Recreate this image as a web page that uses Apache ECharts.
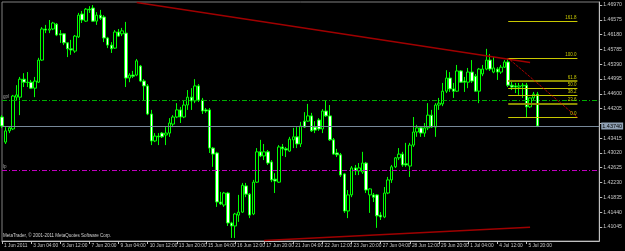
<!DOCTYPE html>
<html><head><meta charset="utf-8">
<script src="https://cdn.jsdelivr.net/npm/echarts@6/dist/echarts.min.js"></script>
<style>html,body{margin:0;padding:0;background:#000}#c{width:625px;height:251px}</style>
</head><body><div id="c"></div>
<script>
// ---- data ----
const tickLabels = ['1 Jun 2011','3 Jun 04:00','6 Jun 12:00','7 Jun 20:00','9 Jun 04:00','10 Jun 12:00','13 Jun 20:00','15 Jun 04:00','16 Jun 12:00','17 Jun 20:00','21 Jun 04:00','22 Jun 12:00','23 Jun 20:00','27 Jun 04:00','28 Jun 12:00','29 Jun 20:00','1 Jul 04:00','4 Jul 12:00','5 Jul 20:00'];
const opens = [1.4398,1.4331,1.4361,1.4366,1.4451,1.4451,1.4499,1.4491,1.4491,1.4475,1.4491,1.4550,1.4633,1.4630,1.4633,1.4646,1.4620,1.4620,1.4596,1.4580,1.4574,1.4612,1.4673,1.4654,1.4686,1.4689,1.4654,1.4670,1.4665,1.4609,1.4590,1.4582,1.4625,1.4620,1.4622,1.4502,1.4510,1.4510,1.4534,1.4494,1.4481,1.4406,1.4334,1.4347,1.4355,1.4350,1.4355,1.4379,1.4398,1.4417,1.4398,1.4430,1.4451,1.4441,1.4481,1.4443,1.4417,1.4417,1.4315,1.4302,1.4171,1.4163,1.4195,1.4115,1.4107,1.4136,1.4144,1.4214,1.4192,1.4139,1.4224,1.4305,1.4294,1.4305,1.4278,1.4232,1.4224,1.4318,1.4313,1.4307,1.4337,1.4345,1.4326,1.4387,1.4387,1.4401,1.4371,1.4390,1.4366,1.4414,1.4401,1.4337,1.4302,1.4297,1.4246,1.4147,1.4190,1.4262,1.4254,1.4251,1.4275,1.4190,1.4190,1.4190,1.4136,1.4131,1.4195,1.4230,1.4265,1.4289,1.4299,1.4273,1.4267,1.4323,1.4358,1.4369,1.4355,1.4369,1.4403,1.4371,1.4430,1.4433,1.4467,1.4502,1.4473,1.4467,1.4521,1.4494,1.4491,1.4518,1.4507,1.4467,1.4513,1.4526,1.4550,1.4518,1.4526,1.4518,1.4531,1.4545,1.4483,1.4481,1.4478,1.4481,1.4483,1.4425,1.4449,1.4459];
const closes = [1.4374,1.4361,1.4369,1.4454,1.4457,1.4499,1.4491,1.4490,1.4475,1.4494,1.4550,1.4633,1.4630,1.4633,1.4649,1.4617,1.4617,1.4596,1.4580,1.4577,1.4614,1.4670,1.4657,1.4686,1.4684,1.4654,1.4670,1.4662,1.4609,1.4590,1.4580,1.4625,1.4614,1.4628,1.4502,1.4510,1.4507,1.4548,1.4494,1.4481,1.4406,1.4334,1.4347,1.4345,1.4345,1.4355,1.4382,1.4398,1.4417,1.4398,1.4430,1.4451,1.4441,1.4481,1.4443,1.4414,1.4414,1.4315,1.4299,1.4171,1.4166,1.4195,1.4115,1.4107,1.4139,1.4144,1.4216,1.4192,1.4136,1.4224,1.4305,1.4294,1.4305,1.4275,1.4230,1.4227,1.4318,1.4313,1.4310,1.4339,1.4345,1.4326,1.4374,1.4371,1.4401,1.4361,1.4363,1.4366,1.4414,1.4401,1.4337,1.4299,1.4297,1.4243,1.4147,1.4190,1.4262,1.4254,1.4262,1.4275,1.4203,1.4206,1.4184,1.4134,1.4131,1.4195,1.4230,1.4265,1.4289,1.4299,1.4270,1.4270,1.4323,1.4358,1.4369,1.4355,1.4369,1.4403,1.4371,1.4430,1.4435,1.4467,1.4502,1.4473,1.4467,1.4521,1.4491,1.4491,1.4518,1.4494,1.4467,1.4526,1.4526,1.4550,1.4526,1.4529,1.4518,1.4531,1.4545,1.4483,1.4478,1.4478,1.4481,1.4483,1.4425,1.4449,1.4459,1.4374];
const lows = [1.4369,1.4326,1.4355,1.4363,1.4443,1.4403,1.4478,1.4478,1.4473,1.4451,1.4489,1.4548,1.4622,1.4622,1.4630,1.4614,1.4596,1.4590,1.4558,1.4564,1.4569,1.4609,1.4649,1.4652,1.4676,1.4652,1.4644,1.4657,1.4598,1.4582,1.4569,1.4580,1.4612,1.4614,1.4478,1.4491,1.4502,1.4507,1.4491,1.4443,1.4403,1.4323,1.4331,1.4323,1.4342,1.4323,1.4345,1.4371,1.4395,1.4382,1.4395,1.4417,1.4417,1.4435,1.4438,1.4406,1.4409,1.4302,1.4265,1.4158,1.4163,1.4158,1.4107,1.4075,1.4075,1.4118,1.4142,1.4184,1.4128,1.4136,1.4222,1.4291,1.4283,1.4270,1.4224,1.4195,1.4222,1.4294,1.4291,1.4305,1.4315,1.4315,1.4318,1.4369,1.4385,1.4358,1.4355,1.4361,1.4355,1.4398,1.4334,1.4297,1.4291,1.4238,1.4142,1.4128,1.4184,1.4243,1.4243,1.4246,1.4195,1.4142,1.4171,1.4102,1.4123,1.4128,1.4192,1.4222,1.4262,1.4283,1.4265,1.4265,1.4238,1.4318,1.4345,1.4345,1.4345,1.4363,1.4369,1.4345,1.4417,1.4427,1.4462,1.4465,1.4449,1.4465,1.4489,1.4465,1.4475,1.4489,1.4465,1.4435,1.4507,1.4523,1.4521,1.4515,1.4497,1.4513,1.4529,1.4478,1.4470,1.4462,1.4457,1.4449,1.4397,1.4422,1.4443,1.4371];
const highs = [1.4403,1.4371,1.4371,1.4457,1.4483,1.4505,1.4515,1.4518,1.4497,1.4505,1.4556,1.4638,1.4644,1.4657,1.4652,1.4649,1.4630,1.4622,1.4598,1.4604,1.4617,1.4676,1.4681,1.4689,1.4694,1.4697,1.4678,1.4684,1.4670,1.4612,1.4598,1.4630,1.4633,1.4636,1.4652,1.4515,1.4521,1.4553,1.4537,1.4499,1.4486,1.4417,1.4355,1.4355,1.4358,1.4371,1.4395,1.4403,1.4435,1.4425,1.4443,1.4470,1.4475,1.4499,1.4486,1.4449,1.4422,1.4422,1.4318,1.4305,1.4198,1.4198,1.4198,1.4118,1.4142,1.4190,1.4222,1.4222,1.4195,1.4230,1.4315,1.4337,1.4326,1.4310,1.4283,1.4248,1.4323,1.4326,1.4318,1.4345,1.4369,1.4371,1.4385,1.4411,1.4433,1.4409,1.4387,1.4395,1.4419,1.4443,1.4430,1.4342,1.4313,1.4302,1.4248,1.4203,1.4267,1.4270,1.4275,1.4305,1.4278,1.4208,1.4195,1.4192,1.4144,1.4211,1.4238,1.4270,1.4291,1.4315,1.4305,1.4329,1.4329,1.4398,1.4377,1.4371,1.4382,1.4435,1.4417,1.4435,1.4449,1.4489,1.4523,1.4518,1.4489,1.4537,1.4523,1.4505,1.4529,1.4550,1.4513,1.4529,1.4537,1.4580,1.4566,1.4558,1.4531,1.4537,1.4550,1.4555,1.4497,1.4489,1.4489,1.4489,1.4489,1.4451,1.4465,1.4465];
const priceTicks = [1.46970,1.46575,1.46180,1.45785,1.45390,1.44995,1.44600,1.44205,1.43810,1.43415,1.43020,1.42625,1.42230,1.41835,1.41440,1.41045];
const priceTickLabels = [1.46970,1.46575,1.46180,1.45785,1.45390,1.44995,1.44600,1.44205,1.43415,1.43020,1.42625,1.42230,1.41835,1.41440,1.41045];
const bidPrice = 1.43740;
const greenLevel = 1.4442;
const magentaLevel = 1.4257;
const upperTrend = [[37, 1.47035], [145, 1.45438]];
const lowerTrend = [[72, 1.40683], [145, 1.41035]];
const fibStart = 139, fibEnd = 158;
const fibHigh = 1.4555, fibLow = 1.4397;
const fibRatios = [0, 0.236, 0.382, 0.5, 0.618, 1, 1.618];
const fibLabels = ['0.0', '23.6', '38.2', '50.0', '61.8', '100.0', '161.8'];
const slotCount = 165;
const axisMin = 1.40669, axisMax = 1.47051;

// ---- build ----
const FONT = 'Liberation Sans';
const cats = Array.from({length: slotCount}, (_, i) => 'b' + i);
const candles = opens.map((o, i) => [o, closes[i], lows[i], highs[i]]);
const tickShown = i => i % 8 === 0 && (i / 8) < tickLabels.length;

const markData = [];
markData.push({yAxis: bidPrice, lineStyle: {color: '#778899', type: 'solid', width: 1},
  label: {show: true, position: 'end', formatter: bidPrice.toFixed(5), backgroundColor: '#8fa0b4', color: '#000', fontSize: 5.5, fontFamily: FONT, padding: [1, 1, 0, 1], distance: 2}});
markData.push({yAxis: greenLevel, lineStyle: {color: '#00b000', type: [5, 2, 1, 2], width: 1},
  label: {show: true, position: 'insideStartTop', formatter: 'gpl', color: '#a0a0a0', fontSize: 4.5, fontFamily: FONT, distance: 1}});
markData.push({yAxis: magentaLevel, lineStyle: {color: '#c000c0', type: [5, 2, 1, 2], width: 1},
  label: {show: true, position: 'insideStartTop', formatter: 'lp', color: '#a0a0a0', fontSize: 4.5, fontFamily: FONT, distance: 1}});
[upperTrend, lowerTrend].forEach(t => {
  markData.push([{coord: t[0], lineStyle: {color: '#a00000', width: 1.5, type: 'solid'}, label: {show: false}}, {coord: t[1]}]);
});
fibRatios.forEach((r, k) => {
  const p = fibLow + r * (fibHigh - fibLow);
  const thick = (r === 0.236 || r === 0.618);
  markData.push([{coord: [fibStart, p], lineStyle: {color: thick ? '#8c8c00' : '#c8c800', width: thick ? 2 : 1, type: 'solid'},
    label: {show: true, position: 'insideEndTop', formatter: fibLabels[k], color: '#c8c800', fontSize: 4.5, fontFamily: FONT, distance: 1}}, {coord: [fibEnd, p]}]);
});
markData.push([{coord: [fibStart, fibHigh], lineStyle: {color: '#ff0000', width: 1, type: [1, 1]}, label: {show: false}}, {coord: [fibEnd, fibLow]}]);

const chart = echarts.init(document.getElementById('c'), null, {renderer: 'canvas'});
chart.setOption({
  animation: false,
  backgroundColor: '#000000',
  grid: {left: 2, right: 24, top: 2, bottom: 10, show: true, borderColor: '#808080', borderWidth: 1, backgroundColor: 'transparent'},
  xAxis: {
    type: 'category', data: cats, boundaryGap: false,
    axisLine: {show: true, lineStyle: {color: '#c0c0c0', width: 1}},
    axisTick: {show: true, interval: (i) => tickShown(i), length: 3, lineStyle: {color: '#c0c0c0'}},
    axisLabel: {show: true, interval: (i) => tickShown(i), formatter: (v, i) => tickShown(i) ? tickLabels[i / 8] : '',
      align: 'left', padding: [0, 0, 0, 2], margin: 2, color: '#c8c8c8', fontSize: 4.8, fontFamily: FONT},
    splitLine: {show: false}
  },
  yAxis: {
    type: 'value', position: 'right', min: axisMin, max: axisMax, scale: true,
    axisLine: {show: true, lineStyle: {color: '#c0c0c0', width: 1}},
    axisTick: {show: true, length: 3, customValues: priceTicks, lineStyle: {color: '#c0c0c0'}},
    axisLabel: {show: true, customValues: priceTickLabels, formatter: v => Number(v).toFixed(5), margin: 4, color: '#c8c8c8', fontSize: 5.2, fontFamily: FONT},
    splitLine: {show: false}
  },
  graphic: [{type: 'text', left: 3, top: 233, style: {text: 'MetaTrader, © 2001-2011 MetaQuotes Software Corp.', fill: '#d0d0d0', fontSize: 4.5, fontFamily: FONT}, silent: true}],
  series: [{
    type: 'candlestick', data: candles, barWidth: 3, clip: true,
    itemStyle: {color: '#000000', color0: '#ffffff', borderColor: '#00ff00', borderColor0: '#00ff00', borderWidth: 1},
    markLine: {silent: true, symbol: ['none', 'none'], animation: false, precision: 5, data: markData}
  }]
});
</script></body></html>
